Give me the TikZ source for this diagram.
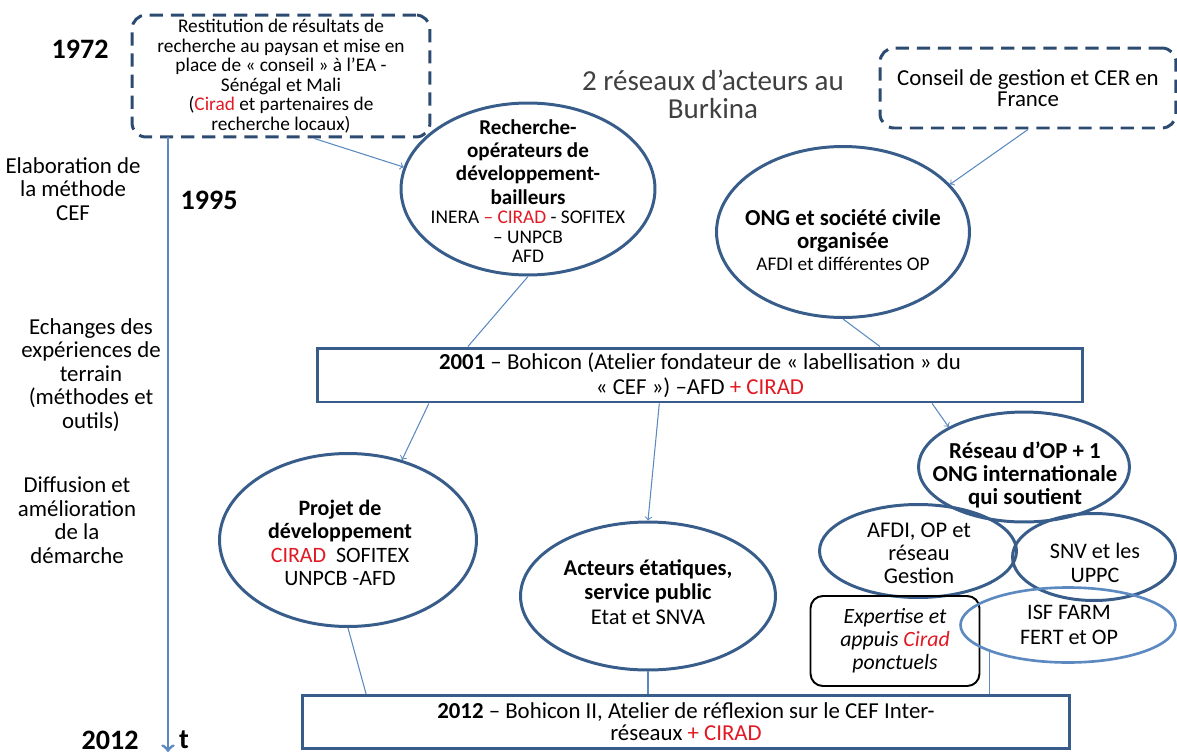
\documentclass[tikz,border=0pt]{standalone}
\usepackage{fontspec}
\setmainfont{Carlito}
\usepackage{tikz}
\usetikzlibrary{shapes.geometric}

\definecolor{bleufonce}{RGB}{56,93,138}
\definecolor{bleunuit}{RGB}{45,75,112}
\definecolor{bleuclair}{RGB}{91,137,192}
\definecolor{rougecirad}{RGB}{225,25,35}
\definecolor{grisfonce}{RGB}{64,64,64}
\newcommand{\rouge}[1]{\textcolor{rougecirad}{#1}}

\begin{document}
\begin{tikzpicture}[x=0.02cm, y=-0.02cm]
\tikzstyle{acteur}=[ellipse, draw=bleufonce, line width=1.7pt, inner sep=0pt]
\tikzstyle{cadre}=[rectangle, draw=bleufonce, line width=1.7pt, inner sep=0pt, align=center]
\tikzstyle{pointille}=[rectangle, rounded corners=8pt, draw=bleunuit, line width=1.7pt, dash pattern=on 7.5pt off 4.5pt, inner sep=0pt, align=center]
\tikzstyle{lien}=[->, draw=bleuclair, line width=0.6pt]
\tikzstyle{trait}=[draw=bleuclair, line width=0.6pt]
\tikzstyle{axe}=[->, draw=bleuclair, line width=1.7pt]
\tikzstyle{etiquette}=[align=flush center, inner sep=0pt]
\tikzstyle{etape}=[align=center, inner sep=0pt, font=\fontsize{13}{13.4}\selectfont]
\tikzstyle{annee}=[inner sep=0pt, font=\bfseries\fontsize{16}{18}\selectfont]

% 1. Grid
%%%%%%%%%
\useasboundingbox (0,0) rectangle (1177,754);

% 2. Nodes
%%%%%%%%%%
\node[pointille, minimum width=5.96cm, minimum height=2.44cm, font=\fontsize{11}{11.1}\selectfont] (restitution) at (281,76) {Restitution de résultats  de\\recherche au paysan et mise en\\place de « conseil » à l’EA -\\Sénégal et Mali\\(\rouge{Cirad} et partenaires de\\recherche locaux)};
\node[pointille, minimum width=5.92cm, minimum height=1.6cm, font=\fontsize{13}{12}\selectfont] (conseil) at (1028,88) {Conseil de gestion et CER en\\France};
\node[etiquette, text=grisfonce, font=\fontsize{16.5}{16}\selectfont] (reseaux) at (713,94) {2 réseaux d’acteurs au\\Burkina};

\node[acteur, minimum width=5.08cm, minimum height=3.44cm] (recherche) at (528,189) {};
\node[etiquette, text width=4.6cm] (rechercheT) at (528,191) {{\bfseries\fontsize{12}{13.3}\selectfont Recherche-\\opérateurs de\\développement-\\bailleurs\par}
  {\fontsize{11}{11.1}\selectfont INERA \rouge{– CIRAD} - SOFITEX\\– UNPCB\\AFD\par}};
\node[acteur, minimum width=5.06cm, minimum height=3.42cm] (ong) at (843,232) {};
\node[etiquette, text width=4.6cm] (ongT) at (843,240) {{\bfseries\fontsize{13}{13.1}\selectfont ONG et société civile\\organisée\par}
  {\fontsize{11}{12.5}\selectfont AFDI et différentes OP\par}};

\node[cadre, minimum width=15.32cm, minimum height=1.08cm, font=\fontsize{13}{14.2}\selectfont] (bohicon1) at (700,375) {\textbf{2001} – Bohicon (Atelier fondateur de « labellisation  » du\\« CEF ») –AFD \rouge{+ CIRAD}};

\node[acteur, minimum width=5.14cm, minimum height=3.46cm] (projet) at (348,540) {};
\node[etiquette, text width=4cm] (projetT) at (340,543) {{\bfseries\fontsize{12.5}{13.3}\selectfont Projet de\\développement\par}
  {\fontsize{12.5}{13.3}\selectfont \rouge{CIRAD}~ SOFITEX\\UNPCB -AFD\par}};
\node[acteur, minimum width=5.1cm, minimum height=2.96cm] (acteurs) at (648,596) {};
\node[etiquette, text width=4.2cm] (acteursT) at (648,592) {{\bfseries\fontsize{12.8}{14}\selectfont Acteurs étatiques,\\service public\par}
  {\fontsize{12.8}{14}\selectfont Etat et SNVA\par}};

\node[acteur, minimum width=4.22cm, minimum height=2.2cm] (reseau) at (1024,467) {};
\node[etiquette, text width=4cm, font=\bfseries\fontsize{13}{13.1}\selectfont] (reseauT) at (1025,475) {Réseau d’OP + 1\\ONG internationale\\qui soutient};
\node[acteur, minimum width=3.94cm, minimum height=1.86cm] (afdi) at (918,551) {};
\node[etiquette, text width=3cm, font=\fontsize{12.8}{13.1}\selectfont] (afdiT) at (919,553) {AFDI, OP et\\réseau\\Gestion};
\node[acteur, minimum width=3.26cm, minimum height=1.74cm] (snv) at (1094,557) {};
\node[etiquette, text width=2.6cm, font=\fontsize{12.6}{13.7}\selectfont] (snvT) at (1095,563) {SNV et les\\UPPC};
\node[rectangle, rounded corners=7pt, draw=black, line width=1.1pt, minimum width=3.38cm, minimum height=1.8cm, align=center, font=\itshape\fontsize{12.4}{13.1}\selectfont] (expertise) at (895,641) {Expertise et\\appuis \rouge{Cirad}\\ponctuels};
\node[acteur, draw=bleuclair, line width=1.5pt, minimum width=4.3cm, minimum height=1.5cm] (isf) at (1068,625) {};
\node[etiquette, text width=3cm, font=\fontsize{12.6}{14.2}\selectfont] (isfT) at (1069,625) {ISF FARM\\FERT et OP};

\node[cadre, minimum width=15.34cm, minimum height=1.06cm, font=\fontsize{13}{12.5}\selectfont] (bohicon2) at (686,722) {\textbf{2012} – Bohicon II, Atelier de réflexion sur le CEF Inter-\\réseaux \rouge{+ CIRAD}};

% time line
\node[annee] (an1972) at (80,49) {1972};
\node[annee] (an1995) at (209,200) {1995};
\node[annee] (an2012) at (110,740) {2012};
\node[annee] (temps) at (184,740) {t};
\node[etape] (elaboration) at (73,189) {Elaboration de\\la méthode\\CEF};
\node[etape] (echanges) at (91,375) {Echanges des\\expériences de\\terrain\\(méthodes et\\outils)};
\node[etape] (diffusion) at (77,520) {Diffusion  et\\amélioration\\de la\\démarche};
\coordinate (thaut) at (168,137);
\coordinate (tbas) at (168,752);

% 3. Arrows
%%%%%%%%%%%
\draw[axe] (thaut) -- (tbas);
\path (restitution.298) edge [lien] (recherche.170)
      (conseil.south)   edge [lien] (ong.24)
      (bohicon1.186)    edge [lien] (projet.56)
      (bohicon1.215)    edge [lien] (acteurs.north)
      (bohicon1.353)    edge [lien] (reseau.152);
\path (recherche.south) edge [trait] (bohicon1.173)
      (ong.south)       edge [trait] (bohicon1.9)
      (projet.south)    edge [trait] (bohicon2.175.3)
      (acteurs.south)   edge [trait] (acteurs.south |- bohicon2.north)
      (isf.199)         edge [trait] (isf.199 |- bohicon2.north);

\end{tikzpicture}
\end{document}
